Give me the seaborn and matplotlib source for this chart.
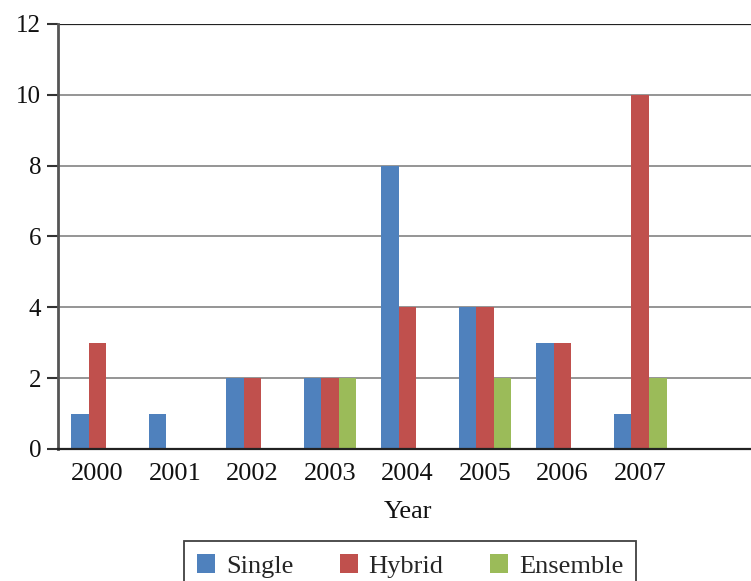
import matplotlib
matplotlib.use("Agg")
import matplotlib.pyplot as plt
import seaborn as sns
import pandas as pd

years = ["2000", "2001", "2002", "2003", "2004", "2005", "2006", "2007"]
single = [1, 1, 2, 2, 8, 4, 3, 1]
hybrid = [3, 0, 2, 2, 4, 4, 3, 10]
ensemble = [0, 0, 0, 2, 0, 2, 0, 2]
methods = ["Single", "Hybrid", "Ensemble"]
colors = ["#4F81BD", "#C0504D", "#9BBB59"]
y_ticks = [0, 2, 4, 6, 8, 10, 12]

df = pd.DataFrame({
    "Year": years * 3,
    "Count": single + hybrid + ensemble,
    "Method": [m for m in methods for _ in years],
})

sns.set_theme(style="white")
plt.rcParams["font.family"] = ["Liberation Serif", "DejaVu Serif"]

fig = plt.figure(figsize=(7.51, 5.81), dpi=100)
ax = fig.add_axes([0.0772, 0.2272, 0.9228, 0.7315])

sns.barplot(data=df, x="Year", y="Count", hue="Method", order=years,
            hue_order=methods, palette=colors, width=0.68, gap=0,
            saturation=1, ax=ax, legend=True, linewidth=0)

ax.set_ylim(0, 12)
ax.set_yticks(y_ticks)
ax.set_xlim(-0.51, 8.43)
ax.set_axisbelow(True)
for v in y_ticks[1:-1]:
    ax.axhline(v, color="#8c8c8c", lw=1.3, zorder=0)
ax.axhline(12, color="#222222", lw=1.6, zorder=0)

for s in ["top", "right"]:
    ax.spines[s].set_visible(False)
ax.spines["left"].set_color("#555555")
ax.spines["left"].set_linewidth(2)
ax.spines["bottom"].set_color("#222222")
ax.spines["bottom"].set_linewidth(1.6)

ax.tick_params(axis="y", which="both", left=True, length=8, width=1.5,
               color="#333333", labelsize=18, pad=4, labelcolor="#111111")
ax.tick_params(axis="x", bottom=False, labelsize=19, pad=4, labelcolor="#111111")
ax.set_ylabel("")
ax.set_xlabel("Year", fontsize=19, color="#111111")
ax.xaxis.set_label_coords(0.505, -0.122)

handles, labels = ax.get_legend_handles_labels()
ax.get_legend().remove()
leg = fig.legend(handles, labels, loc="upper center", bbox_to_anchor=(0.546, 0.069),
                 ncol=3, fontsize=19, frameon=True, fancybox=False,
                 handlelength=0.7, handleheight=0.7, handletextpad=0.4,
                 columnspacing=1.75, borderpad=0.5, borderaxespad=0,
                 edgecolor="#111111")
leg.get_frame().set_linewidth(1.3)

fig.savefig("out.png", dpi=100)
